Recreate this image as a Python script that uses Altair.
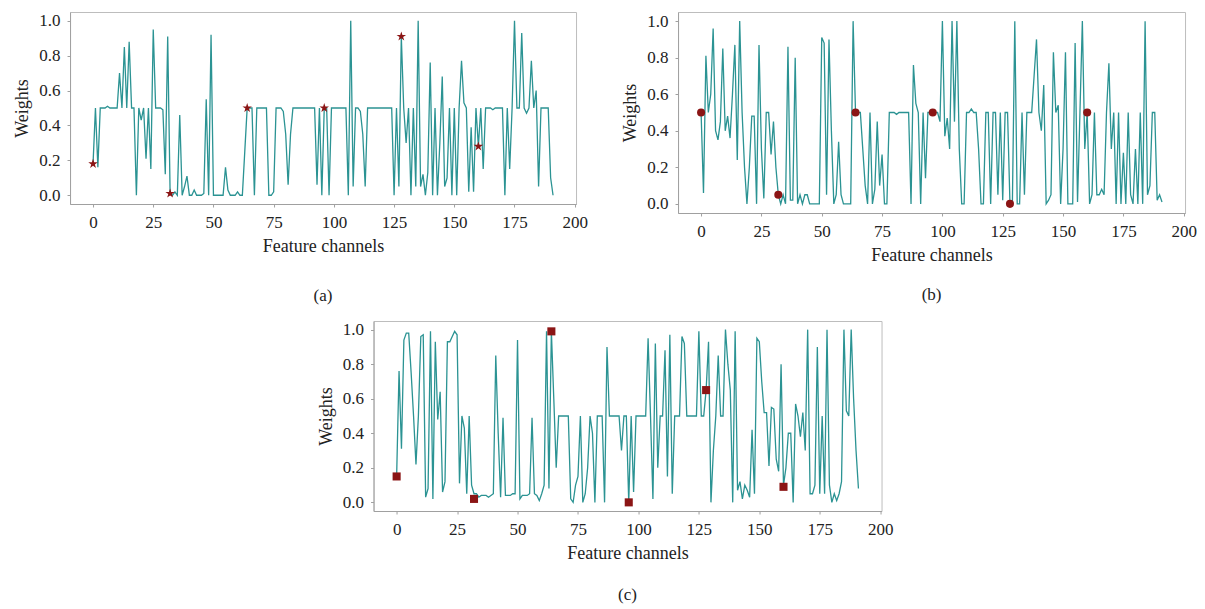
import altair as alt
import pandas as pd

channels = list(range(192))

weights_a = [
    0.18, 0.5, 0.16, 0.5, 0.5, 0.5, 0.51, 0.5, 0.5, 0.5, 0.5, 0.7, 0.5, 0.85, 0.5, 0.88,
    0.5, 0.5, 0.0, 0.5, 0.43, 0.5, 0.21, 0.5, 0.15, 0.95, 0.5, 0.5, 0.5, 0.49, 0.12, 0.91,
    0.01, 0.0, 0.02, 0.0, 0.46, 0.0, 0.05, 0.11, 0.0, 0.0, 0.03, 0.0, 0.0, 0.0, 0.01, 0.55,
    0.0, 0.92, 0.0, 0.0, 0.0, 0.0, 0.0, 0.16, 0.03, 0.0, 0.0, 0.0, 0.02, 0.0, 0.0, 0.25,
    0.5, 0.5, 0.5, 0.0, 0.5, 0.5, 0.5, 0.5, 0.5, 0.0, 0.0, 0.02, 0.5, 0.5, 0.5, 0.48,
    0.35, 0.06, 0.35, 0.5, 0.5, 0.5, 0.5, 0.5, 0.5, 0.5, 0.5, 0.5, 0.5, 0.06, 0.5, 0.0,
    0.5, 0.5, 0.0, 0.5, 0.5, 0.5, 0.5, 0.5, 0.5, 0.5, 0.0, 1.0, 0.05, 0.5, 0.5, 0.48,
    0.35, 0.05, 0.5, 0.5, 0.5, 0.5, 0.5, 0.5, 0.5, 0.5, 0.5, 0.5, 0.5, 0.0, 0.5, 0.05,
    0.91, 0.5, 0.3, 0.5, 0.0, 0.5, 0.05, 1.0, 0.05, 0.12, 0.0, 0.13, 0.76, 0.0, 0.5, 0.0,
    0.3, 0.68, 0.05, 0.1, 0.5, 0.0, 0.5, 0.0, 0.5, 0.77, 0.53, 0.5, 0.02, 0.39, 0.02, 0.5,
    0.28, 0.5, 0.15, 0.5, 0.5, 0.5, 0.49, 0.5, 0.5, 0.5, 0.5, 0.0, 0.5, 0.15, 0.5, 1.0,
    0.5, 0.5, 0.93, 0.5, 0.47, 0.5, 0.77, 0.5, 0.6, 0.05, 0.5, 0.5, 0.5, 0.5, 0.1, 0.0,
]

weights_b = [
    0.5, 0.06, 0.81, 0.5, 0.6, 0.96, 0.4, 0.35, 0.45, 0.85, 0.4, 0.48, 0.36, 0.6, 0.87, 0.24,
    1.0, 0.5, 0.2, 0.0, 0.2, 0.48, 0.48, 0.0, 0.87, 0.3, 0.03, 0.5, 0.5, 0.27, 0.45, 0.2,
    0.05, 0.0, 0.05, 0.0, 0.86, 0.02, 0.02, 0.8, 0.0, 0.05, 0.0, 0.05, 0.05, 0.0, 0.0, 0.0,
    0.0, 0.0, 0.91, 0.88, 0.05, 0.9, 0.4, 0.0, 0.05, 0.34, 0.05, 0.0, 0.0, 0.0, 0.0, 1.0,
    0.5, 0.5, 0.5, 0.3, 0.1, 0.0, 0.5, 0.0, 0.08, 0.45, 0.1, 0.27, 0.0, 0.0, 0.5, 0.5,
    0.5, 0.49, 0.5, 0.5, 0.5, 0.5, 0.5, 0.0, 0.76, 0.55, 0.5, 0.0, 0.5, 0.14, 0.5, 0.5,
    0.5, 0.5, 0.5, 0.45, 1.0, 0.37, 0.47, 0.3, 1.0, 0.45, 1.0, 0.3, 0.0, 0.0, 0.5, 0.5,
    0.52, 0.5, 0.5, 0.3, 0.0, 0.0, 0.5, 0.5, 0.0, 0.5, 0.5, 0.05, 0.5, 0.02, 0.5, 0.5,
    0.0, 0.0, 1.0, 0.0, 0.0, 0.5, 0.05, 0.5, 0.5, 0.5, 0.7, 0.9, 0.5, 0.4, 0.65, 0.0,
    0.02, 0.05, 0.83, 0.5, 0.54, 0.0, 0.3, 0.83, 0.0, 0.0, 0.0, 0.88, 0.01, 0.5, 1.0, 0.3,
    0.5, 0.0, 0.05, 0.5, 0.05, 0.05, 0.08, 0.05, 0.5, 0.77, 0.3, 0.5, 0.0, 0.5, 0.0, 0.28,
    0.0, 0.5, 0.05, 0.0, 0.3, 0.0, 0.5, 0.0, 1.0, 0.05, 0.1, 0.5, 0.5, 0.02, 0.05, 0.01,
]

weights_c = [
    0.15, 0.76, 0.31, 0.94, 0.98, 0.98, 0.75, 0.5, 0.22, 0.5, 0.96, 0.97, 0.03, 0.08, 0.99, 0.02,
    0.93, 0.48, 0.64, 0.06, 0.12, 0.93, 0.93, 0.96, 0.99, 0.97, 0.11, 0.5, 0.43, 0.05, 0.5, 0.1,
    0.05, 0.05, 0.03, 0.04, 0.04, 0.04, 0.03, 0.04, 0.05, 0.85, 0.4, 0.03, 0.49, 0.04, 0.04, 0.04,
    0.05, 0.05, 0.94, 0.02, 0.04, 0.04, 0.04, 0.05, 0.49, 0.05, 0.04, 0.01, 0.05, 0.1, 0.99, 0.08,
    0.99, 0.6, 0.2, 0.5, 0.5, 0.5, 0.5, 0.5, 0.02, 0.0, 0.1, 0.15, 0.5, 0.0, 0.05, 0.2,
    0.5, 0.4, 0.0, 0.5, 0.5, 0.5, 0.0, 0.9, 0.5, 0.5, 0.5, 0.5, 0.5, 0.3, 0.5, 0.5,
    0.0, 0.5, 0.06, 0.5, 0.5, 0.5, 0.5, 0.5, 0.95, 0.5, 0.02, 0.92, 0.2, 0.5, 0.5, 0.88,
    0.15, 0.97, 0.05, 0.5, 0.5, 0.5, 0.96, 0.92, 0.5, 0.5, 0.5, 0.5, 0.5, 0.99, 0.5, 0.5,
    0.65, 0.93, 0.0, 0.3, 0.5, 0.85, 0.5, 0.5, 1.0, 0.8, 0.65, 0.0, 0.99, 0.07, 0.12, 0.02,
    0.1, 0.07, 0.03, 0.42, 0.05, 0.95, 0.93, 0.7, 0.52, 0.52, 0.21, 0.55, 0.54, 0.25, 0.18, 0.8,
    0.1, 0.2, 0.4, 0.4, 0.0, 0.57, 0.5, 0.38, 0.52, 0.3, 1.0, 0.05, 0.05, 0.1, 0.9, 0.05,
    0.5, 0.05, 1.0, 0.1, 0.0, 0.05, 0.01, 0.05, 0.12, 1.0, 0.53, 0.5, 1.0, 0.6, 0.3, 0.08,
]

marker_channels = [0, 32, 64, 96, 128, 160]
markers_a = [0.18, 0.01, 0.5, 0.5, 0.91, 0.28]
markers_b = [0.5, 0.05, 0.5, 0.5, 0.0, 0.5]
markers_c = [0.15, 0.02, 0.99, 0.0, 0.65, 0.09]

x_ticks = [0, 25, 50, 75, 100, 125, 150, 175, 200]
y_ticks = [0.0, 0.2, 0.4, 0.6, 0.8, 1.0]
panel_labels = ["(a)", "(b)", "(c)"]

LINE = "#2b9393"
MARK = "#8b1515"
FONT = "Liberation Serif"
STAR = ("M0,-1L0.2245,-0.309L0.951,-0.309L0.363,0.118L0.588,0.809L0,0.382"
        "L-0.588,0.809L-0.363,0.118L-0.951,-0.309L-0.2245,-0.309Z")


def panel(w, mv, shape, size, label, width, height, title_offset):
    line_df = pd.DataFrame({"ch": channels, "w": w})
    mk_df = pd.DataFrame({"ch": marker_channels, "w": mv})
    x = alt.X("ch:Q",
              scale=alt.Scale(domain=[-9.55, 200.55], nice=False, zero=False),
              axis=alt.Axis(values=x_ticks, title="Feature channels", format="d"))
    y = alt.Y("w:Q",
              scale=alt.Scale(domain=[-0.05, 1.05], nice=False, zero=False),
              axis=alt.Axis(values=y_ticks, title="Weights", format=".1f"))
    line = alt.Chart(line_df).mark_line(color=LINE, strokeWidth=1.3).encode(x=x, y=y)
    pts = alt.Chart(mk_df).mark_point(shape=shape, size=size, filled=True,
                                      color=MARK, opacity=1).encode(x=x, y=y)
    return alt.layer(line, pts).properties(
        width=width, height=height,
        title=alt.TitleParams(label, orient="bottom", offset=title_offset,
                              fontSize=17, font=FONT, fontWeight="normal",
                              anchor="middle", color="#222222"))


pa = panel(weights_a, markers_a, STAR, 100, panel_labels[0], 506, 192, 33)
pb = panel(weights_b, markers_b, "circle", 65, panel_labels[1], 507, 201, 23)
pc = panel(weights_c, markers_c, "square", 65, panel_labels[2], 508, 190, 25)

top = alt.hconcat(pa, pb, spacing=33)
chart = alt.vconcat(top, pc, spacing=15, center=True).properties(
    padding={"left": 5, "top": 3, "right": 0, "bottom": 0}
).configure_view(stroke="#bdbdbd", strokeWidth=1).configure_axis(
    labelFont=FONT, titleFont=FONT, labelFontSize=17, titleFontSize=18,
    titleFontWeight="normal", labelColor="#222222", titleColor="#222222",
    domainColor="#a0a0a0", tickColor="#a0a0a0", tickSize=3, grid=False,
    labelPadding=7, titlePadding=7
)

chart.save("out.html", embed_options={"renderer": "svg", "actions": False})
